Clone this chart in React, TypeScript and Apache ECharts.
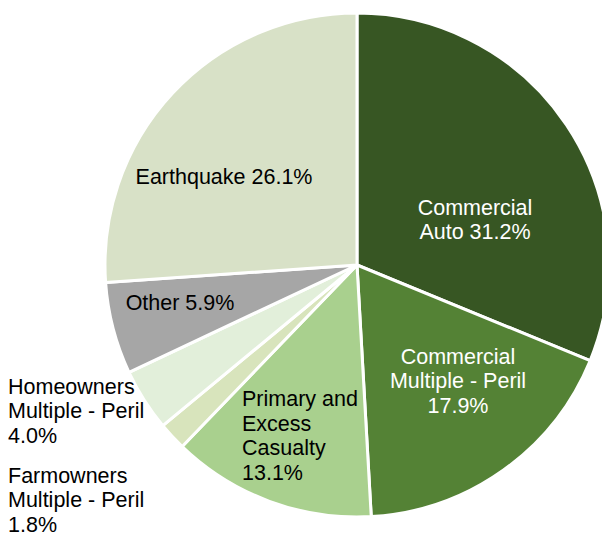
import React, { useEffect, useRef } from "react";
import * as echarts from "echarts";

const categories = [
  "Commercial Auto",
  "Commercial Multiple - Peril",
  "Primary and Excess Casualty",
  "Farmowners Multiple - Peril",
  "Homeowners Multiple - Peril",
  "Other",
  "Earthquake",
];
const values = [31.2, 17.9, 13.1, 1.8, 4.0, 5.9, 26.1];
const labelTexts = [
  "Commercial\nAuto 31.2%",
  "Commercial\nMultiple - Peril\n17.9%",
  "Primary and\nExcess\nCasualty\n13.1%",
  "Farmowners\nMultiple - Peril\n1.8%",
  "Homeowners\nMultiple - Peril\n4.0%",
  "Other 5.9%",
  "Earthquake 26.1%",
];
const colors = ["#375623", "#548235", "#a9d08e", "#d8e4bc", "#e2efda", "#a6a6a6", "#d8e1c7"];
const labelColors = ["#ffffff", "#ffffff", "#000000", "#000000", "#000000", "#000000", "#000000"];

// label placement (anchor x, y, alignment) per slice
const labelPlaces: { x: number; y: number; align: string; verticalAlign: string }[] = [
  { x: 475, y: 220, align: "center", verticalAlign: "middle" },
  { x: 458, y: 381, align: "center", verticalAlign: "middle" },
  { x: 242, y: 436, align: "left", verticalAlign: "middle" },
  { x: 8, y: 500, align: "left", verticalAlign: "middle" },
  { x: 8, y: 411, align: "left", verticalAlign: "middle" },
  { x: 180, y: 303, align: "center", verticalAlign: "middle" },
  { x: 224, y: 177, align: "center", verticalAlign: "middle" },
];

export default function App() {
  const ref = useRef<HTMLDivElement>(null);
  useEffect(() => {
    if (!ref.current) return;
    const chart = echarts.init(ref.current, null, { renderer: "svg" });
    chart.setOption({
      animation: false,
      backgroundColor: "#ffffff",
      series: [
        {
          type: "pie",
          center: [357, 265],
          radius: 252,
          startAngle: 90,
          clockwise: true,
          avoidLabelOverlap: false,
          itemStyle: { borderColor: "#ffffff", borderWidth: 3 },
          label: {
            show: true,
            position: "inside",
            fontFamily: "Liberation Sans, Arial, sans-serif",
            fontSize: 21.5,
            lineHeight: 24.5,
            formatter: (p: any) => labelTexts[p.dataIndex],
          },
          labelLine: { show: false },
          labelLayout: (params: any) => {
            const pl = labelPlaces[params.dataIndex];
            return { x: pl.x, y: pl.y, align: pl.align, verticalAlign: pl.verticalAlign };
          },
          emphasis: { disabled: true },
          data: categories.map((c, i) => ({
            name: c,
            value: values[i],
            itemStyle: { color: colors[i] },
            label: { color: labelColors[i] },
          })),
        },
      ],
    });
    return () => chart.dispose();
  }, []);
  return (
    <div
      ref={ref}
      style={{ position: "fixed", left: 0, top: 0, width: 602, height: 535 }}
    />
  );
}
